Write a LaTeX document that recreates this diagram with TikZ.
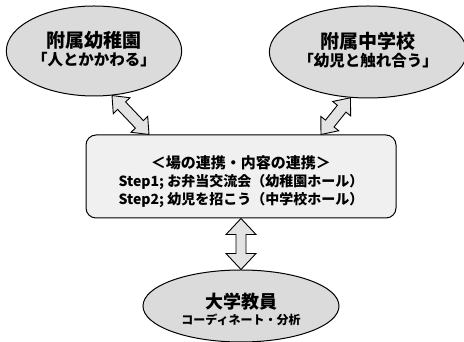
\documentclass[tikz,border=0pt]{standalone}
\usepackage{fontspec}
\setmainfont{Noto Sans CJK JP}
\usetikzlibrary{calc,shapes.geometric}
\tikzset{place/.style = {ellipse, draw, line width = 1pt, fill = gray!28, inner sep = 0, align = center, font = \bfseries}}
\tikzset{hub/.style = {draw, line width = 1pt, rounded corners = 10, fill = gray!12, inner sep = 0, align = center, font = \bfseries}}
\tikzset{fatarrow/.style = {draw, line width = 0.9pt, fill = gray!22, line join = miter}}
\newcommand{\fatlink}[5]{%
  \coordinate (fa1) at ($(#1)!#3!(#2)$);
  \coordinate (fa2) at ($(#2)!#3!(#1)$);
  \draw [fatarrow] (#1) -- ($(fa1)!#4!90:(#2)$) -- ($(fa1)!#5!90:(#2)$)
    -- ($(fa2)!#5!-90:(#1)$) -- ($(fa2)!#4!-90:(#1)$) -- (#2)
    -- ($(fa2)!#4!90:(#1)$) -- ($(fa2)!#5!90:(#1)$)
    -- ($(fa1)!#5!-90:(#2)$) -- ($(fa1)!#4!-90:(#2)$) -- cycle;}

\begin{document}
\begin{tikzpicture}[x = 1pt, y = 1pt]
    \useasboundingbox (0, 0) rectangle (464, 342);
    % kindergarten and junior high
    \node [place, minimum width = 162, minimum height = 90] (kinder) at (94, 291)
      {\fontsize{19}{20}\selectfont 附属幼稚園\\[2pt] \fontsize{15.5}{20}\selectfont 「人とかかわる」\rule[-6pt]{0pt}{0pt}};
    \node [place, minimum width = 186, minimum height = 92] (junior) at (368, 290)
      {\fontsize{19}{20}\selectfont 附属中学校\\[2pt] \fontsize{15.5}{20}\selectfont 「幼児と触れ合う」\rule[-6pt]{0pt}{0pt}};
    % joint activities
    \node [hub, minimum width = 310, minimum height = 83] (hub) at (241, 165.5)
      {\rule{0pt}{24pt}\fontsize{15}{20}\selectfont ＜場の連携・内容の連携＞\\[3pt]
       \fontsize{14}{20}\selectfont Step1; お弁当交流会（幼稚園ホール）\\[2pt]
       \fontsize{14}{20}\selectfont Step2; 幼児を招こう（中学校ホール）};
    % university staff
    \node [place, minimum width = 196, minimum height = 72] (staff) at (241, 36)
      {\rule{0pt}{22pt}\fontsize{18}{20}\selectfont 大学教員\\[3pt] \fontsize{12}{14}\selectfont コーディネート・分析};
    \coordinate (hubl) at ([xshift = -92]hub.north);
    \coordinate (hubr) at ([xshift = 80]hub.north);
    \fatlink{kinder.-68}{hubl}{14pt}{11.5pt}{5.5pt}
    \fatlink{junior.-111}{hubr}{14pt}{11.5pt}{5.5pt}
    \fatlink{hub.south}{staff.north}{16pt}{15pt}{5pt}
  \end{tikzpicture}
\end{document}
